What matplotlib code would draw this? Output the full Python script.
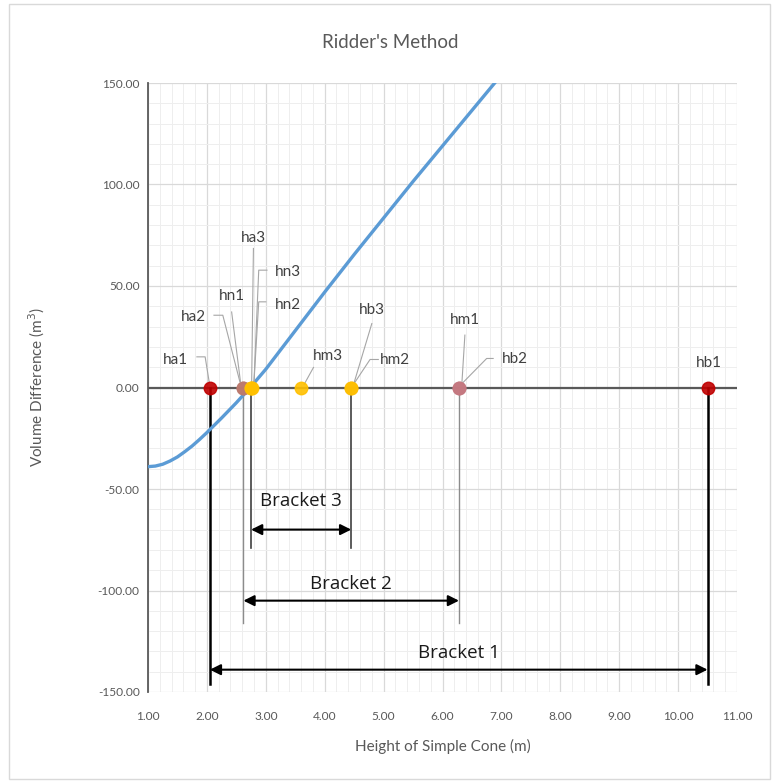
import matplotlib.pyplot as plt
from matplotlib.patches import Rectangle
from matplotlib.ticker import MultipleLocator, FormatStrFormatter

# volume difference of the cone against its height
height = [1.0, 1.125, 1.25, 1.375, 1.5, 1.625, 1.75, 1.875, 2.0, 2.25, 2.5,
          2.75, 3.0, 3.25, 3.5, 3.75, 4.0, 4.5, 5.0, 5.5, 6.0, 6.5, 7.0]
vol_diff = [-39, -38.7, -37.8, -36.2, -34.2, -31.6, -28.8, -25.6, -22.2, -15,
            -7.5, 0.5, 9, 18.5, 28, 37.5, 47, 65.5, 83.5, 101.5, 119, 136.5, 154]

# iterates of Ridder's method, plotted on the zero line
pt_names = ['ha1', 'hb1', 'hm1', 'ha2', 'hn1', 'hb2', 'hm2',
            'ha3', 'hn2', 'hn3', 'hb3', 'hm3']
pt_h = [2.05, 10.50, 6.28, 2.62, 2.62, 6.28, 4.45,
        2.75, 2.75, 2.76, 4.45, 3.60]
pt_v = [0, 0, 0, 0, 0, 0, 0, 0, 0, 0, 0, 0]

# brackets [low, high] of each iteration
bracket_names = ['Bracket 1', 'Bracket 2', 'Bracket 3']
bracket_lo = [2.05, 2.62, 2.75]
bracket_hi = [10.50, 6.28, 4.45]

# styling / placement
pt_colors = {'ha1': '#C00000', 'hb1': '#C00000', 'hm1': '#C47880',
             'ha2': '#BC7A6E', 'hn1': '#BC7A6E', 'hb2': '#C47880',
             'hm2': '#F0B020', 'ha3': '#FFC000', 'hn2': '#FFC000',
             'hn3': '#FFC000', 'hb3': '#FFC000', 'hm3': '#FFC000'}
label_pos = {'ha1': (1.47, 13.4), 'ha2': (1.77, 34.5), 'hn1': (2.42, 45.0),
             'ha3': (2.79, 73.4), 'hn3': (3.38, 57.0), 'hn2': (3.38, 40.5),
             'hm3': (4.05, 15.4), 'hb3': (4.80, 38.4), 'hm2': (5.20, 13.4),
             'hm1': (6.38, 33.2), 'hb2': (7.23, 13.8), 'hb1': (10.52, 12.1)}
leaders = {
    'ha1': [(1.83, 15.1), (1.97, 15.1), (2.04, 2.5)],
    'ha2': [(2.12, 35.6), (2.27, 35.6), (2.56, 2.8)],
    'hn1': [(2.42, 37.2), (2.57, 2.8)],
    'ha3': [(2.79, 68.5), (2.76, 2.5)],
    'hn3': [(3.02, 57.8), (2.88, 57.8), (2.80, 3.0)],
    'hn2': [(3.00, 42.2), (2.88, 42.2), (2.80, 3.0)],
    'hm3': [(3.81, 9.9), (3.65, 1.5)],
    'hb3': [(4.80, 31.5), (4.49, 1.5)],
    'hm2': [(4.91, 13.8), (4.77, 13.8), (4.50, 2.0)],
    'hm1': [(6.38, 25.8), (6.33, 2.5)],
    'hb2': [(6.86, 14.3), (6.75, 14.3), (6.35, 2.5)],
}
arrow_y = [-139, -105, -70]
text_y = [-131, -97, -56]
line_bottom = [-146, -116, -79]
line_style = [('#000000', 1.8), ('#8C8C8C', 1.0), ('#404040', 1.2)]

W, H = 772, 784
fig = plt.figure(figsize=(W / 100, H / 100), dpi=100)
fig.patches.append(Rectangle((9 / W, 5 / H), 761 / W, 775 / H, transform=fig.transFigure,
                             fill=False, edgecolor='#D9D9D9', lw=1.0))
ax = fig.add_axes([148 / W, 1 - 692 / H, 589 / W, 609 / H])

ax.set_xlim(1, 11)
ax.set_ylim(-150, 150)
ax.xaxis.set_major_locator(MultipleLocator(1))
ax.xaxis.set_minor_locator(MultipleLocator(0.2))
ax.yaxis.set_major_locator(MultipleLocator(50))
ax.yaxis.set_minor_locator(MultipleLocator(10))
ax.xaxis.set_major_formatter(FormatStrFormatter('%.2f'))
ax.yaxis.set_major_formatter(FormatStrFormatter('%.2f'))
ax.grid(which='major', color='#D9D9D9', lw=0.9)
ax.grid(which='minor', color='#EEEEEE', lw=0.7)
ax.set_axisbelow(True)
for side in ['top', 'right', 'bottom']:
    ax.spines[side].set_visible(False)
ax.spines['left'].set_color('#595959')
ax.spines['left'].set_linewidth(1.3)
ax.tick_params(which='both', length=0, labelsize=8.6, labelcolor='#595959')
ax.tick_params(axis='x', pad=14)
ax.tick_params(axis='y', pad=6)
for lab in ax.get_xticklabels() + ax.get_yticklabels():
    lab.set_family('Lato')

ax.axhline(0, color='#595959', lw=1.6, zorder=2)

# bracket verticals, arrows and captions
for i, name in enumerate(bracket_names):
    c, lw = line_style[i]
    for h in (bracket_lo[i], bracket_hi[i]):
        ax.plot([h, h], [0, line_bottom[i]], color=c, lw=lw, zorder=2)
    ax.annotate('', xy=(bracket_hi[i], arrow_y[i]), xytext=(bracket_lo[i], arrow_y[i]),
                arrowprops=dict(arrowstyle='<|-|>', color='black', lw=1.5,
                                mutation_scale=16, shrinkA=0, shrinkB=0))
    ax.text((bracket_lo[i] + bracket_hi[i]) / 2, text_y[i], name, ha='center',
            va='center', fontsize=13.5, family='Open Sans', color='#1A1A1A')

ax.plot(height, vol_diff, color='#5B9BD5', lw=2.4, zorder=3, clip_on=True,
        solid_joinstyle='round')

# leader lines and point labels
for name, path in leaders.items():
    xs, ys = zip(*path)
    ax.plot(xs, ys, color='#A6A6A6', lw=0.8, zorder=3)
for name, h, v in zip(pt_names, pt_h, pt_v):
    ax.plot(h, v, 'o', ms=9, color=pt_colors[name], mec=pt_colors[name],
            alpha=0.9, zorder=4)
    lx, ly = label_pos[name]
    ax.text(lx, ly, name, ha='center', va='center', fontsize=11,
            family='Lato', color='#404040', zorder=5)

fig.text(390 / W, 1 - 42 / H, "Ridder's Method", ha='center', va='center',
         fontsize=13.5, family='Lato', color='#595959')
fig.text(37 / W, 1 - 387 / H, 'Volume Difference (m$^3$)', rotation=90,
         ha='center', va='center', fontsize=11, family='Lato', color='#595959')
fig.text(443 / W, 1 - 746 / H, 'Height of Simple Cone (m)', ha='center',
         va='center', fontsize=11, family='Lato', color='#595959')

fig.savefig('out.png', dpi=100)
